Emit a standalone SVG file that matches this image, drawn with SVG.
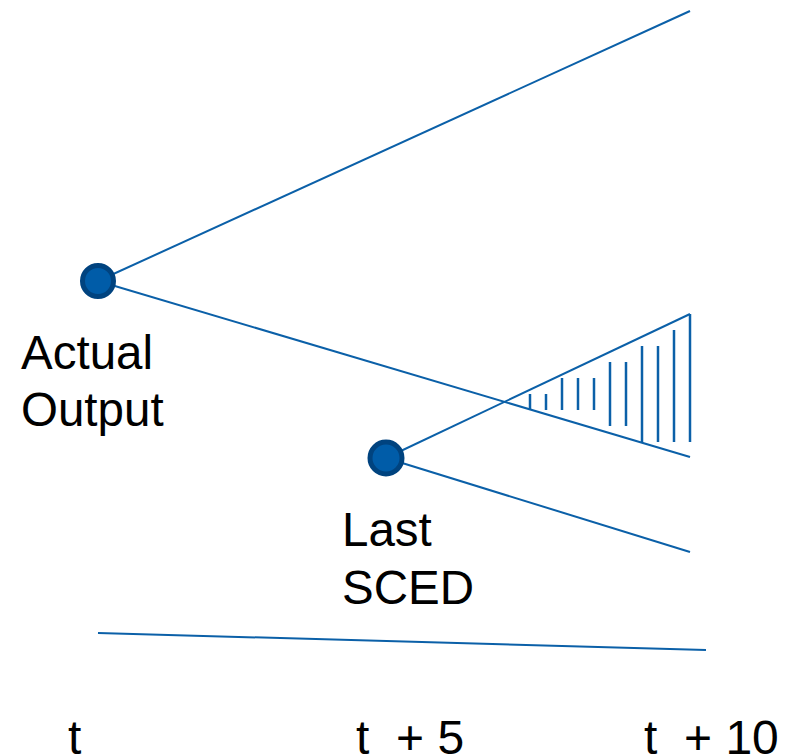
<svg xmlns="http://www.w3.org/2000/svg" width="794" height="755" viewBox="0 0 794 755">
<style>
.ln{stroke:#0b60a8;stroke-width:2;fill:none}
.h{stroke:#0b60a8;stroke-width:2.5}
.nd{fill:#005ca8;stroke:#00437f;stroke-width:5}
.tx{font-family:"Liberation Sans",Arial,sans-serif;font-size:47.5px;fill:#000}
.ax{font-family:"Liberation Sans",Arial,sans-serif;font-size:48px;fill:#000;white-space:pre}
</style>
<rect width="794" height="755" fill="#fff"/>
<g id="connectors">
<line class="ln" x1="98" y1="281" x2="690" y2="11"/>
<line class="ln" x1="98" y1="281" x2="690" y2="457"/>
<line class="ln" x1="386" y1="458" x2="690" y2="314"/>
<line class="ln" x1="386" y1="458" x2="690" y2="552"/>
<line class="ln" x1="98" y1="633" x2="706" y2="650"/>
</g>
<g id="hatch">
<line class="h" x1="530" y1="394" x2="530" y2="410"/>
<line class="h" x1="546" y1="394" x2="546" y2="410"/>
<line class="h" x1="562" y1="378" x2="562" y2="410"/>
<line class="h" x1="578" y1="378" x2="578" y2="410"/>
<line class="h" x1="594" y1="378" x2="594" y2="410"/>
<line class="h" x1="610" y1="362" x2="610" y2="426"/>
<line class="h" x1="626" y1="362" x2="626" y2="426"/>
<line class="h" x1="642" y1="346" x2="642" y2="442"/>
<line class="h" x1="658" y1="346" x2="658" y2="442"/>
<line class="h" x1="674" y1="330" x2="674" y2="442"/>
<line class="h" x1="690" y1="314" x2="690" y2="442"/>
</g>
<g id="actual-output">
<circle class="nd" cx="98" cy="281" r="15.5"/>
<text class="tx" x="21" y="369">Actual</text>
<text class="tx" x="21" y="426">Output</text>
</g>
<g id="last-sced">
<circle class="nd" cx="386" cy="458" r="16"/>
<text class="tx" x="342" y="546">Last</text>
<text class="tx" x="342" y="604">SCED</text>
</g>
<g id="axis-labels">
<text class="ax" x="68" y="754">t</text>
<text class="ax" x="356" y="754" xml:space="preserve">t  + 5</text>
<text class="ax" x="644" y="754" xml:space="preserve">t  + 10</text>
</g>
</svg>
